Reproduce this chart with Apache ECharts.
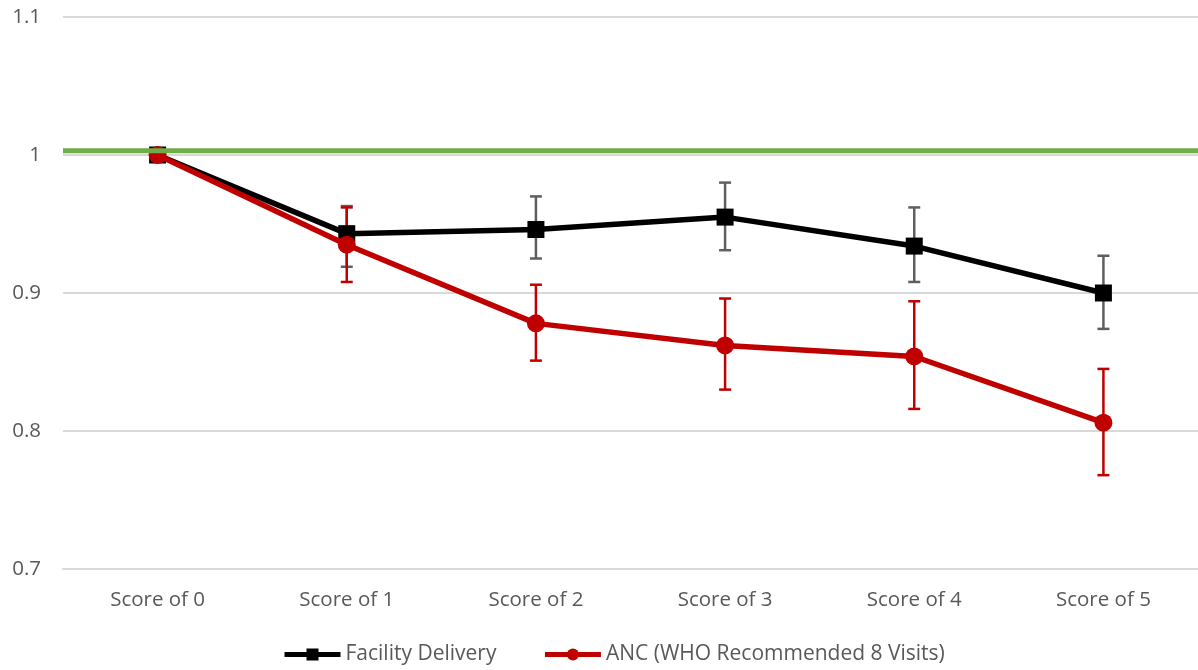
<!DOCTYPE html>
<html>
<head>
<meta charset="utf-8">
<script src="https://cdn.jsdelivr.net/npm/echarts@6/dist/echarts.min.js"></script>
<style>
  html, body { margin: 0; padding: 0; background: #ffffff; }
  #chart { width: 1198px; height: 670px; }
</style>
</head>
<body>
<div id="chart"></div>
<script>
// Categories along the x axis
const categories = ['Score of 0', 'Score of 1', 'Score of 2', 'Score of 3', 'Score of 4', 'Score of 5'];

// Facility Delivery: point estimate and confidence interval bounds
const facilityValues = [1.000, 0.943, 0.946, 0.955, 0.934, 0.900];
const facilityLow    = [1.000, 0.919, 0.925, 0.931, 0.908, 0.874];
const facilityHigh   = [1.000, 0.963, 0.970, 0.980, 0.962, 0.927];

// ANC (WHO Recommended 8 Visits): point estimate and confidence interval bounds
const ancValues = [1.000, 0.935, 0.878, 0.862, 0.854, 0.806];
const ancLow    = [1.000, 0.908, 0.851, 0.830, 0.816, 0.768];
const ancHigh   = [1.000, 0.962, 0.906, 0.896, 0.894, 0.845];

// Horizontal reference line, spanning the full plot width
const referenceValue = 1.003;
const referenceSpan = [0, 1];

// Y axis range and ticks
const yMin = 0.7, yMax = 1.1, yStep = 0.1;

const FONT = '"Open Sans", "Liberation Sans", sans-serif';

function errorBarSeries(name, low, high, color, width) {
  return {
    name: name,
    type: 'custom',
    z: 3,
    silent: true,
    data: low.map((l, i) => [i, l, high[i]]),
    renderItem: function (params, api) {
      const i = api.value(0);
      const lo = api.coord([i, api.value(1)]);
      const hi = api.coord([i, api.value(2)]);
      if (Math.abs(lo[1] - hi[1]) < 1) return null;
      const cap = 6;
      const style = { stroke: color, lineWidth: width, fill: null };
      return {
        type: 'group',
        children: [
          { type: 'line', shape: { x1: hi[0], y1: hi[1], x2: lo[0], y2: lo[1] }, style: style },
          { type: 'line', shape: { x1: hi[0] - cap, y1: hi[1], x2: hi[0] + cap, y2: hi[1] }, style: style },
          { type: 'line', shape: { x1: lo[0] - cap, y1: lo[1], x2: lo[0] + cap, y2: lo[1] }, style: style }
        ]
      };
    }
  };
}

const chart = echarts.init(document.getElementById('chart'), null, { renderer: 'canvas' });

chart.setOption({
  animation: false,
  backgroundColor: '#ffffff',
  grid: { left: 63, right: 0, top: 17, bottom: 101, containLabel: false },
  legend: {
    data: ['Facility Delivery', 'ANC (WHO Recommended 8 Visits)'],
    bottom: 0,
    left: 277,
    itemWidth: 56,
    itemHeight: 15,
    itemGap: 46,
    lineStyle: { width: 5 },
    textStyle: { fontFamily: FONT, fontSize: 21, color: '#595959' }
  },
  xAxis: [
    {
      type: 'category',
      data: categories,
      boundaryGap: true,
      axisLine: { show: true, lineStyle: { color: '#d9d9d9', width: 2 } },
      axisTick: { show: false },
      axisLabel: { fontFamily: FONT, fontSize: 20.5, color: '#595959', margin: 21 },
      splitLine: { show: false }
    },
    {
      type: 'value',
      min: 0,
      max: 1,
      show: false
    }
  ],
  yAxis: {
    type: 'value',
    min: yMin,
    max: yMax,
    interval: yStep,
    axisLine: { show: false },
    axisTick: { show: false },
    axisLabel: {
      fontFamily: FONT, fontSize: 20.5, color: '#595959', margin: 22,
      formatter: v => String(+v.toFixed(1))
    },
    splitLine: { lineStyle: { color: '#d9d9d9', width: 2 } }
  },
  series: [
    {
      name: 'Reference',
      type: 'line',
      xAxisIndex: 1,
      z: 6,
      silent: true,
      symbol: 'none',
      data: referenceSpan.map(x => [x, referenceValue]),
      lineStyle: { color: '#70AD47', width: 5 }
    },
    {
      name: 'Facility Delivery',
      type: 'line',
      data: facilityValues,
      z: 4,
      symbol: 'rect',
      symbolSize: 17,
      showAllSymbol: true,
      lineStyle: { color: '#000000', width: 5.5 },
      itemStyle: { color: '#000000' }
    },
    {
      name: 'ANC (WHO Recommended 8 Visits)',
      type: 'line',
      data: ancValues,
      z: 5,
      symbol: 'circle',
      symbolSize: 18,
      showAllSymbol: true,
      lineStyle: { color: '#C00000', width: 5.5 },
      itemStyle: { color: '#C00000' }
    },
    errorBarSeries('Facility Delivery CI', facilityLow, facilityHigh, '#5f5f5f', 2.5),
    errorBarSeries('ANC CI', ancLow, ancHigh, '#C00000', 2.5)
  ]
});
</script>
</body>
</html>
